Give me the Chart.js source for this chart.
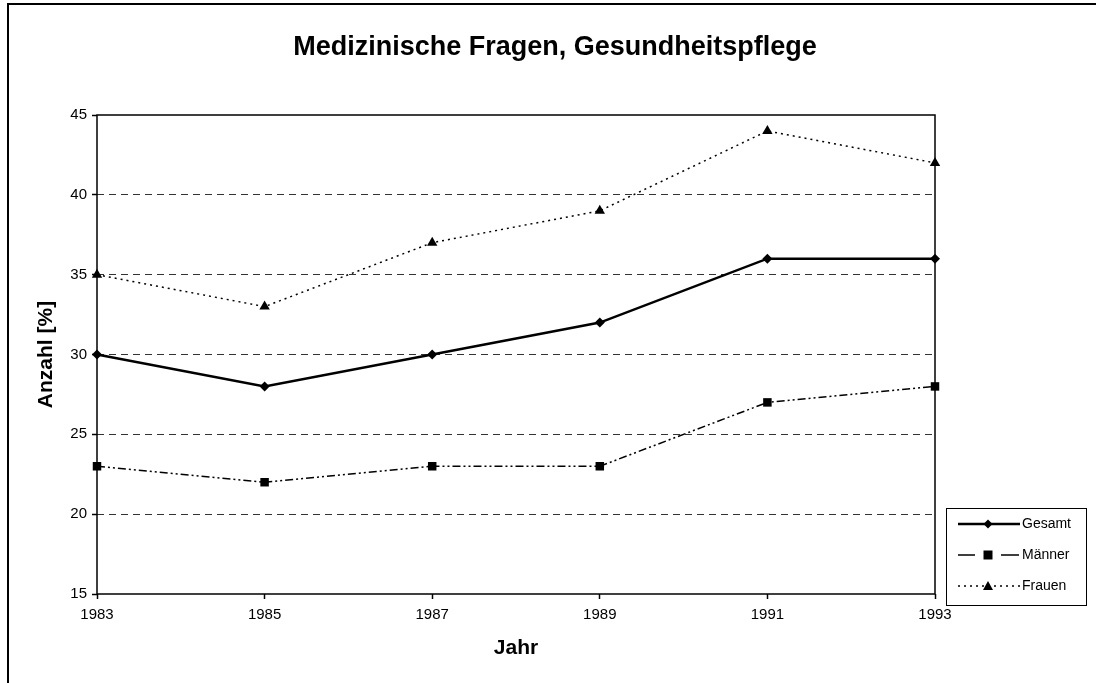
<!DOCTYPE html>
<html>
<head>
<meta charset="utf-8">
<script src="https://cdn.jsdelivr.net/npm/chart.js@4/dist/chart.umd.min.js"></script>
<style>
  html, body { margin: 0; padding: 0; background: #fff; }
  #wrap { width: 1096px; height: 683px; position: relative; }
</style>
</head>
<body>
<div id="wrap"><canvas id="graph"></canvas></div>
<script>
const years = ['1983', '1985', '1987', '1989', '1991', '1993'];
const gesamt = [30, 28, 30, 32, 36, 36];
const maenner = [23, 22, 23, 23, 27, 28];
const frauen = [35, 33, 37, 39, 44, 42];
const seriesNames = ['Gesamt', 'Männer', 'Frauen'];
const chartTitle = 'Medizinische Fragen, Gesundheitspflege';

const FONT = "'Liberation Sans', Arial, sans-serif";

// outer frame, title, plot box and the legend box
const framePlugin = {
  id: 'frame',
  beforeDraw(chart) {
    const ctx = chart.ctx;
    ctx.save();
    ctx.fillStyle = '#fff';
    ctx.fillRect(0, 0, chart.width, chart.height);
    ctx.strokeStyle = '#000';
    ctx.lineWidth = 2;
    ctx.strokeRect(8, 4, chart.width + 20, chart.height + 20);
    // title is centred on the whole picture, not on the plot
    ctx.fillStyle = '#000';
    ctx.font = 'bold 27px ' + FONT;
    ctx.textAlign = 'center';
    ctx.textBaseline = 'middle';
    ctx.fillText(chartTitle, 555, 48);
    ctx.restore();
  },
  afterDatasetsDraw(chart) {
    const ctx = chart.ctx;
    const a = chart.chartArea;
    ctx.save();
    ctx.strokeStyle = '#000';
    ctx.lineWidth = 1.5;
    ctx.strokeRect(a.left, a.top, a.right - a.left, a.bottom - a.top);
    ctx.restore();
  },
  afterDraw(chart) {
    const ctx = chart.ctx;
    const bx = 946, by = 508, bw = 140, bh = 97;
    ctx.save();
    ctx.fillStyle = '#fff';
    ctx.fillRect(bx, by, bw, bh);
    ctx.strokeStyle = '#000';
    ctx.lineWidth = 1;
    ctx.strokeRect(bx + 0.5, by + 0.5, bw, bh);
    chart.data.datasets.forEach((ds, i) => {
      const y = by + 16 + i * 31;
      const m = 988;
      ctx.beginPath();
      ctx.lineWidth = i === 0 ? 2.5 : 1.5;
      if (i === 1) {
        ctx.moveTo(958, y); ctx.lineTo(975, y);
        ctx.moveTo(1001, y); ctx.lineTo(1019, y);
      } else {
        ctx.setLineDash(i === 0 ? [] : [2, 4]);
        ctx.moveTo(958, y); ctx.lineTo(1020, y);
      }
      ctx.stroke();
      ctx.setLineDash([]);
      ctx.fillStyle = '#000';
      ctx.beginPath();
      if (ds.pointStyle === 'rectRot') {
        ctx.moveTo(m, y - 4.5); ctx.lineTo(m + 4.5, y); ctx.lineTo(m, y + 4.5); ctx.lineTo(m - 4.5, y);
      } else if (ds.pointStyle === 'rect') {
        ctx.rect(m - 4.5, y - 4.5, 9, 9);
      } else {
        ctx.moveTo(m, y - 5); ctx.lineTo(m + 5, y + 4); ctx.lineTo(m - 5, y + 4);
      }
      ctx.closePath();
      ctx.fill();
      ctx.font = '14px ' + FONT;
      ctx.textBaseline = 'middle';
      ctx.textAlign = 'left';
      ctx.fillText(ds.label, 1022, y);
    });
    ctx.restore();
  }
};

new Chart(document.getElementById('graph'), {
  type: 'line',
  data: {
    labels: years,
    datasets: [
      {
        label: seriesNames[0], data: gesamt,
        borderColor: '#000', backgroundColor: '#000', borderWidth: 2.5,
        pointStyle: 'rectRot', pointRadius: 5, pointBorderWidth: 0, tension: 0
      },
      {
        label: seriesNames[1], data: maenner,
        borderColor: '#000', backgroundColor: '#000', borderWidth: 1.5,
        borderDash: [8, 3, 2, 3, 2, 3],
        pointStyle: 'rect', pointRadius: 6, pointBorderWidth: 0, tension: 0
      },
      {
        label: seriesNames[2], data: frauen,
        borderColor: '#000', backgroundColor: '#000', borderWidth: 1.5,
        borderDash: [2, 4],
        pointStyle: 'triangle', pointRadius: 6, pointBorderWidth: 0, tension: 0
      }
    ]
  },
  options: {
    responsive: true,
    maintainAspectRatio: false,
    animation: false,
    layout: { padding: { left: 30, right: 161, bottom: 18, top: 115 } },
    plugins: {
      legend: { display: false },
      tooltip: { enabled: false },
      title: { display: false }
    },
    scales: {
      x: {
        offset: false,
        grid: { drawOnChartArea: false, tickLength: 5, tickColor: '#000', tickWidth: 1.5 },
        border: { display: false },
        ticks: { color: '#000', font: { family: FONT, size: 15 }, padding: 7, maxRotation: 0 },
        title: {
          display: true, text: 'Jahr', color: '#000',
          font: { family: FONT, size: 21, weight: 'bold' },
          padding: { top: 8, bottom: 4 }
        },
        afterFit(scale) { scale.height = 71; }
      },
      y: {
        min: 15, max: 45,
        ticks: { stepSize: 5, color: '#000', font: { family: FONT, size: 15 }, padding: 5 },
        border: { display: false, dash: [7, 5] },
        grid: {
          color: (c) => (c.tick && (c.tick.value === 15 || c.tick.value === 45)) ? 'rgba(0,0,0,0)' : '#333',
          lineWidth: 1,
          tickLength: 5,
          tickColor: '#000',
          tickBorderDash: [],
          tickWidth: 1.5
        },
        title: {
          display: true, text: 'Anzahl [%]', color: '#000',
          font: { family: FONT, size: 21, weight: 'bold' },
          padding: { top: 4, bottom: 8 }
        },
        afterFit(scale) { scale.width = 67; }
      }
    }
  },
  plugins: [framePlugin]
});
</script>
</body>
</html>
